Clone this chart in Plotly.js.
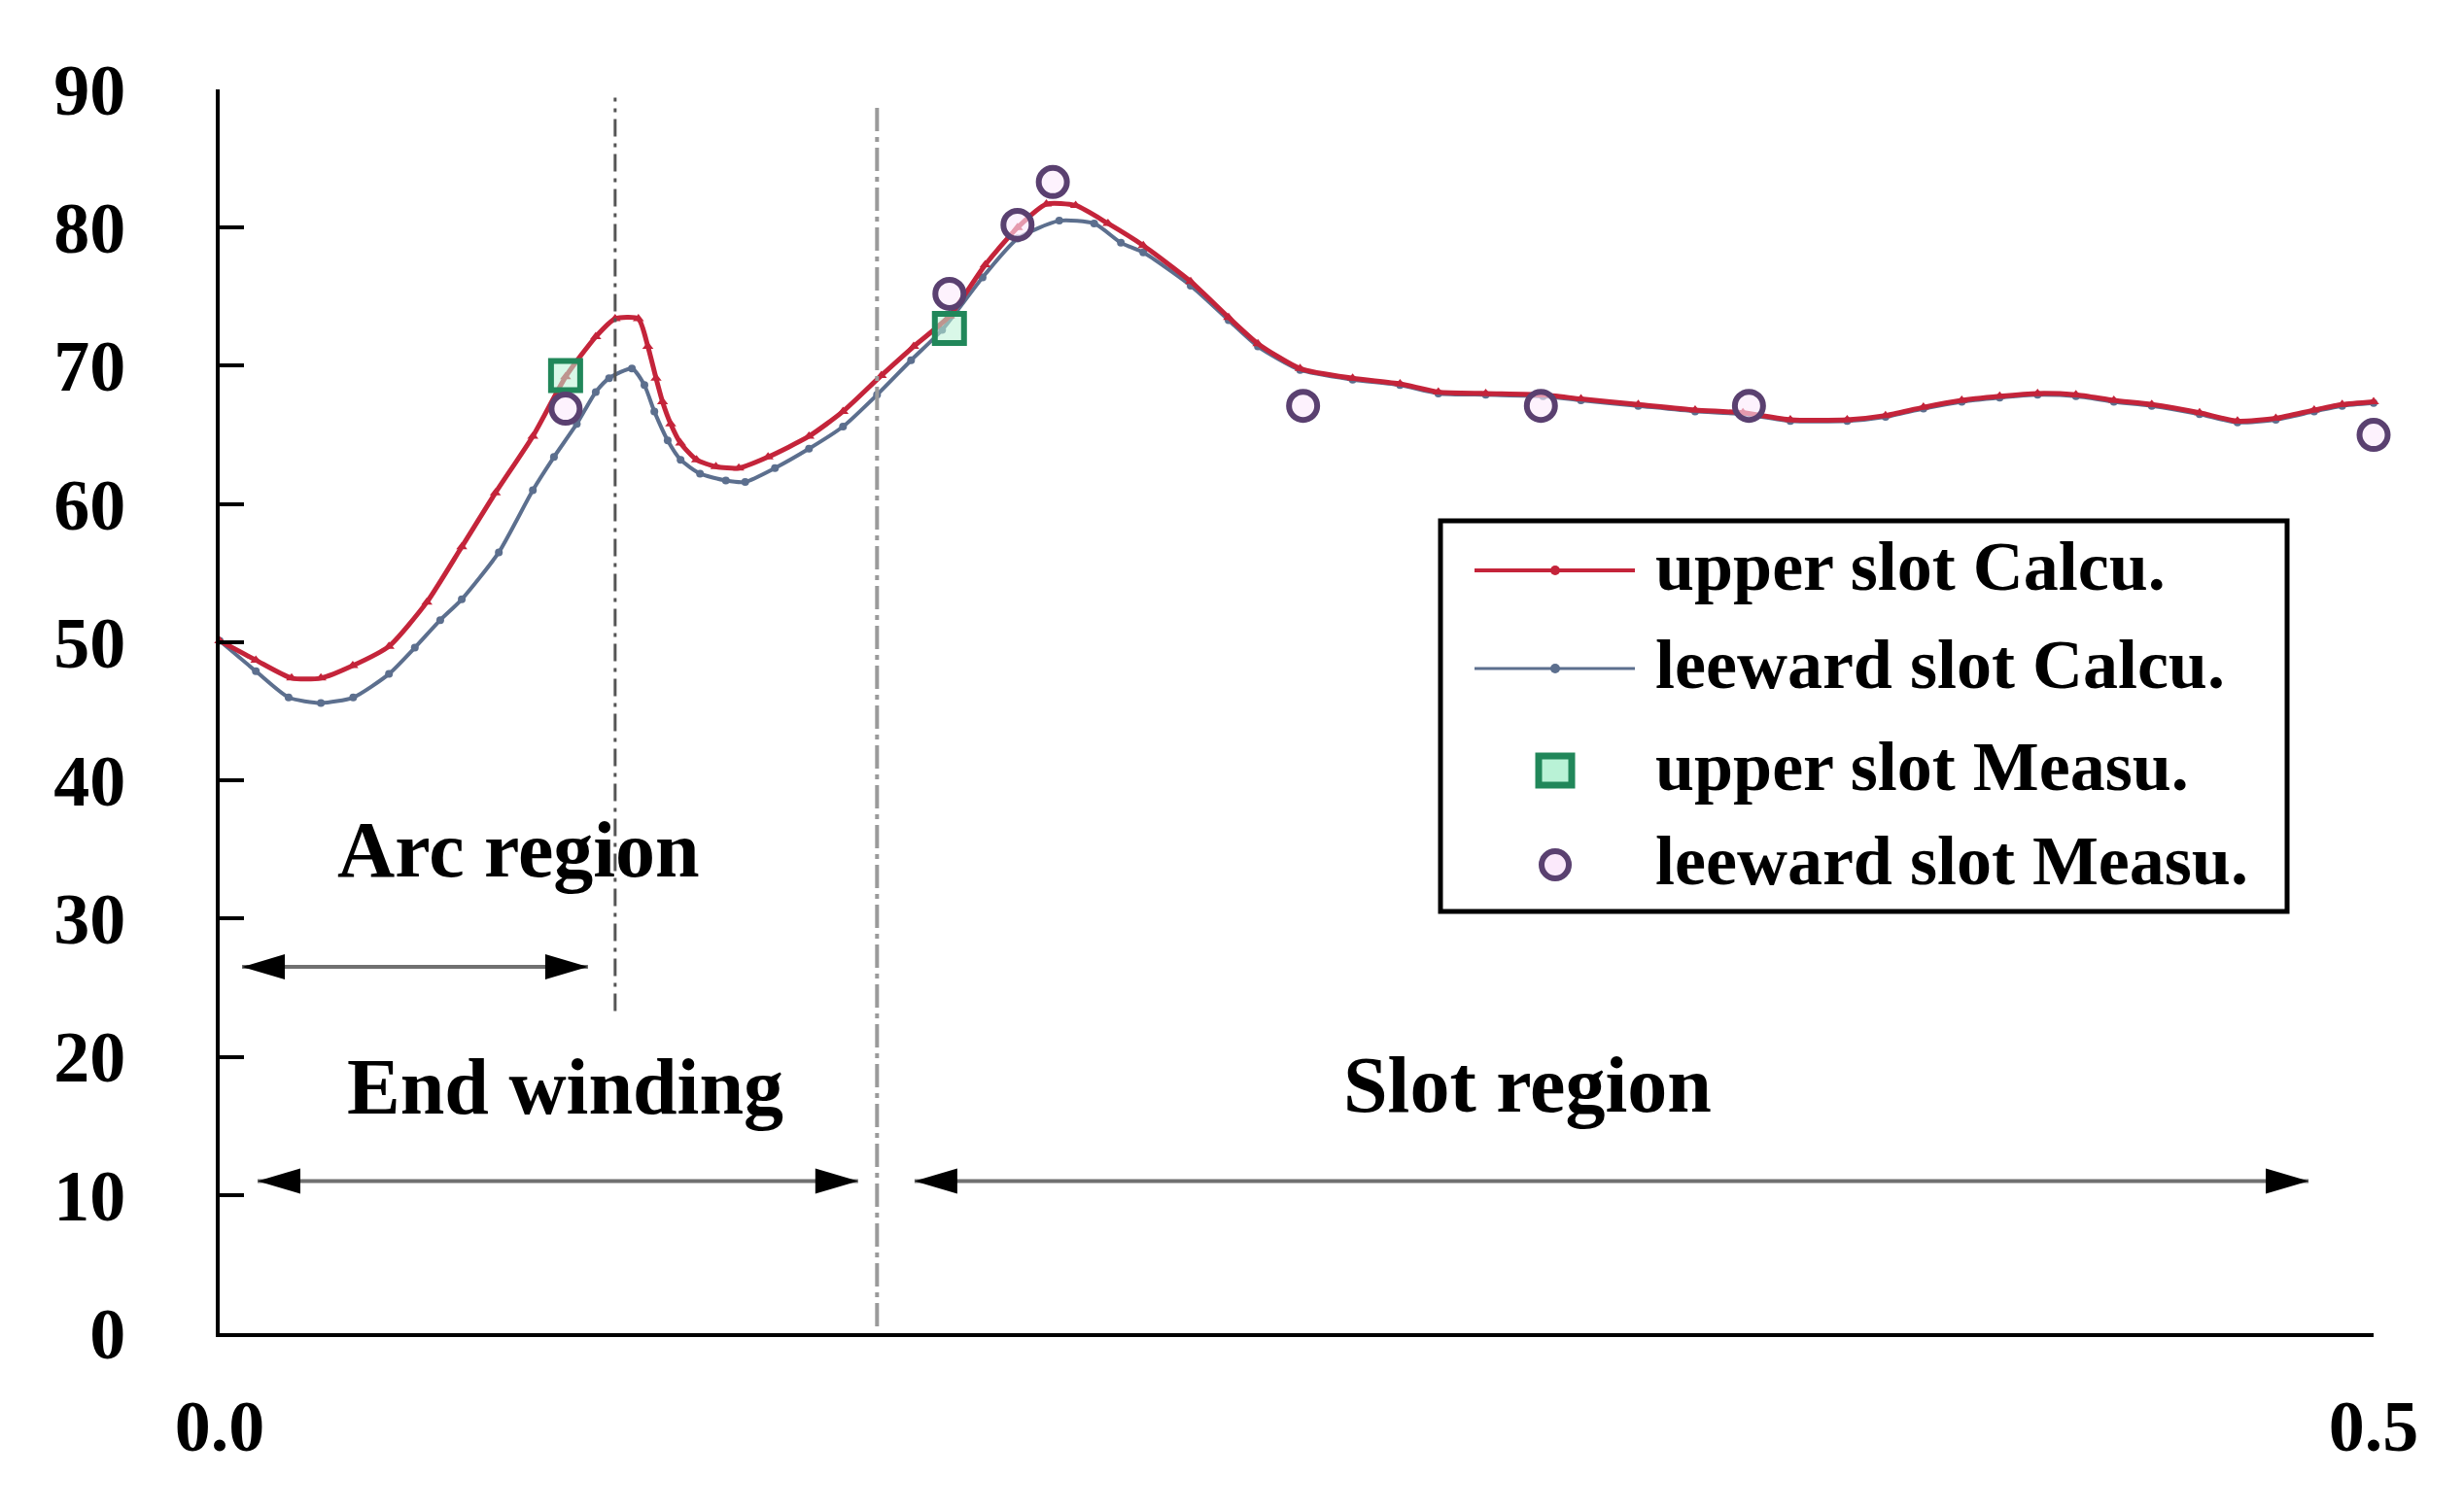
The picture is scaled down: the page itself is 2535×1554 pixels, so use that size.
<!DOCTYPE html>
<html>
<head>
<meta charset="utf-8">
<script src="https://cdn.plot.ly/plotly-3.0.1.min.js"></script>
<style>html,body{margin:0;padding:0;background:#fff;}#chart{width:2535px;height:1554px;}</style>
</head>
<body>
<div id="chart"></div>
<script>
// ---- data ----
const seriesNames = ['upper slot Calcu.', 'leeward slot Calcu.', 'upper slot Measu.', 'leeward slot Measu.'];

const xUpperCalc = [0.0000, 0.0084, 0.0167, 0.0235, 0.0309, 0.0393, 0.0481, 0.0562, 0.0640, 0.0727, 0.0803, 0.0873, 0.0918, 0.0972, 0.0994, 0.1013, 0.1028, 0.1047, 0.1070, 0.1107, 0.1152, 0.1205, 0.1273, 0.1368, 0.1447, 0.1536, 0.1611, 0.1694, 0.1777, 0.1852, 0.1919, 0.1987, 0.2062, 0.2144, 0.2254, 0.2342, 0.2410, 0.2508, 0.2630, 0.2740, 0.2829, 0.2939, 0.3072, 0.3160, 0.3293, 0.3425, 0.3536, 0.3646, 0.3778, 0.3867, 0.3955, 0.4044, 0.4132, 0.4220, 0.4309, 0.4397, 0.4485, 0.4596, 0.4684, 0.4773, 0.4862, 0.4927, 0.5000];
const yUpperCalc = [50.1, 48.7, 47.4, 47.4, 48.3, 49.7, 52.9, 56.9, 60.8, 64.9, 69.2, 72.1, 73.4, 73.4, 71.4, 69.1, 67.4, 65.8, 64.4, 63.2, 62.7, 62.6, 63.4, 64.9, 66.7, 69.3, 71.4, 73.6, 77.3, 80.0, 81.7, 81.6, 80.3, 78.7, 76.1, 73.5, 71.6, 69.8, 69.1, 68.7, 68.1, 68.0, 67.9, 67.6, 67.2, 66.8, 66.6, 66.1, 66.1, 66.4, 67.0, 67.5, 67.8, 68.0, 67.9, 67.5, 67.2, 66.6, 66.0, 66.2, 66.8, 67.2, 67.4];

const xLeewardCalc = [0.0000, 0.0084, 0.0160, 0.0235, 0.0310, 0.0393, 0.0453, 0.0512, 0.0562, 0.0648, 0.0727, 0.0776, 0.0829, 0.0873, 0.0904, 0.0957, 0.0986, 0.1009, 0.1040, 0.1070, 0.1115, 0.1175, 0.1220, 0.1289, 0.1368, 0.1447, 0.1526, 0.1605, 0.1677, 0.1771, 0.1852, 0.1949, 0.2030, 0.2092, 0.2144, 0.2254, 0.2342, 0.2410, 0.2508, 0.2630, 0.2740, 0.2829, 0.2939, 0.3072, 0.3160, 0.3293, 0.3425, 0.3536, 0.3646, 0.3778, 0.3867, 0.3955, 0.4044, 0.4132, 0.4220, 0.4309, 0.4397, 0.4485, 0.4596, 0.4684, 0.4773, 0.4862, 0.4927, 0.5000];
const yLeewardCalc = [50.1, 47.9, 46.0, 45.6, 46.0, 47.7, 49.6, 51.6, 53.1, 56.5, 61.0, 63.4, 65.8, 68.1, 69.1, 69.8, 68.6, 66.7, 64.6, 63.2, 62.2, 61.7, 61.6, 62.6, 64.0, 65.6, 67.9, 70.4, 72.6, 76.4, 79.2, 80.5, 80.3, 78.9, 78.2, 75.8, 73.3, 71.4, 69.7, 69.0, 68.6, 68.0, 67.9, 67.8, 67.5, 67.1, 66.7, 66.5, 66.0, 66.0, 66.3, 66.9, 67.4, 67.7, 67.9, 67.8, 67.4, 67.1, 66.5, 65.9, 66.1, 66.7, 67.1, 67.3];

const xUpperMeas = [0.0803, 0.1694];
const yUpperMeas = [69.3, 72.7];

const xLeewardMeas = [0.0803, 0.1694, 0.1852, 0.1934, 0.2515, 0.3067, 0.3550, 0.5000];
const yLeewardMeas = [66.9, 75.2, 80.2, 83.3, 67.1, 67.1, 67.1, 65.0];

const yTickVals = [0, 10, 20, 30, 40, 50, 60, 70, 80, 90];
const xTickVals = [0, 0.5];
const xTickText = ['0.0', '0.5'];

const regionBounds = [0.0918, 0.1526];          // arc-region end, end-winding end
const regionLabels = ['Arc region', 'End winding', 'Slot region'];
const regionLabelX = [0.0693, 0.0801, 0.3036];
const regionLabelY = [35.0, 17.8, 18.0];
const arrowSpans = [[0.0052, 0.0855], [0.0088, 0.1482], [0.1613, 0.4849]];
const arrowY = [26.5, 11.0, 11.0];

// ---- styles ----
const FONT = 'Liberation Serif, Times New Roman, serif';
const RED = '#c4243a';
const BLUE = '#5c6f8e';
const GREEN = '#21875a';
const PURPLE = '#5a4070';

const traces = [
  {x: xLeewardCalc, y: yLeewardCalc, name: seriesNames[1], type: 'scatter', mode: 'lines+markers',
   line: {color: BLUE, width: 4, shape: 'spline', smoothing: 0.6},
   marker: {symbol: 'circle', size: 8, color: BLUE}, cliponaxis: false},
  {x: xUpperCalc, y: yUpperCalc, name: seriesNames[0], type: 'scatter', mode: 'lines+markers',
   line: {color: RED, width: 5, shape: 'spline', smoothing: 0.6},
   marker: {symbol: 'triangle-up', size: 10, color: RED}, cliponaxis: false},
  {x: xUpperMeas, y: yUpperMeas, name: seriesNames[2], type: 'scatter', mode: 'markers',
   marker: {symbol: 'square', size: 30, color: 'rgba(185,242,214,0.55)', line: {color: GREEN, width: 6}}, cliponaxis: false},
  {x: xLeewardMeas, y: yLeewardMeas, name: seriesNames[3], type: 'scatter', mode: 'markers',
   marker: {symbol: 'circle', size: 29, color: 'rgba(251,233,251,0.6)', line: {color: PURPLE, width: 6}}, cliponaxis: false}
];

// plot area in pixels (for the hand-built legend in paper units)
const M = {l: 226, r: 93, t: 92, b: 182};
const W = 2535, H = 1554;
const PW = W - M.l - M.r, PH = H - M.t - M.b;
const px = v => (v - M.l) / PW;
const py = v => (H - M.b - v) / PH;

const shapes = [];
const annotations = [];

// region boundary lines
shapes.push({type: 'line', xref: 'x', yref: 'y', x0: regionBounds[0], x1: regionBounds[0], y0: 23.3, y1: 89.4,
  line: {color: '#555555', width: 3, dash: '18px,7px,4px,7px'}});
shapes.push({type: 'line', xref: 'x', yref: 'y', x0: regionBounds[1], x1: regionBounds[1], y0: 0.5, y1: 89.0,
  line: {color: '#9a9a9a', width: 4, dash: '24px,6px,5px,6px'}});

// double arrows
arrowSpans.forEach((s, i) => {
  shapes.push({type: 'line', xref: 'x', yref: 'y', x0: s[0], x1: s[1], y0: arrowY[i], y1: arrowY[i],
    line: {color: '#707070', width: 4}});
  shapes.push({type: 'path', xref: 'x', yref: 'y', xsizemode: 'pixel', ysizemode: 'pixel',
    xanchor: s[0], yanchor: arrowY[i], path: 'M0,0 L44,-13 L44,13 Z', fillcolor: '#000', line: {width: 0}});
  shapes.push({type: 'path', xref: 'x', yref: 'y', xsizemode: 'pixel', ysizemode: 'pixel',
    xanchor: s[1], yanchor: arrowY[i], path: 'M0,0 L-44,-13 L-44,13 Z', fillcolor: '#000', line: {width: 0}});
});

// region labels
regionLabels.forEach((t, i) => {
  annotations.push({text: t, x: regionLabelX[i], y: regionLabelY[i], xref: 'x', yref: 'y', showarrow: false,
    xanchor: 'center', yanchor: 'middle', font: {family: FONT, size: 82, color: '#000', weight: 'bold'}});
});

// legend box
shapes.push({type: 'rect', xref: 'paper', yref: 'paper', x0: px(1482), x1: px(2353), y0: py(938), y1: py(536),
  line: {color: '#000', width: 5}, fillcolor: 'rgba(255,255,255,0)'});
const rowY = [587, 688, 793, 890];
const symX = px(1600);
// line samples
[[RED, 4], [BLUE, 3]].forEach((c, i) => {
  shapes.push({type: 'line', xref: 'paper', yref: 'paper', x0: px(1517), x1: px(1682), y0: py(rowY[i]), y1: py(rowY[i]),
    line: {color: c[0], width: c[1]}});
  shapes.push({type: 'circle', xref: 'paper', yref: 'paper', xsizemode: 'pixel', ysizemode: 'pixel',
    xanchor: symX, yanchor: py(rowY[i]), x0: -5, x1: 5, y0: -5, y1: 5, fillcolor: c[0], line: {width: 0}});
});
shapes.push({type: 'rect', xref: 'paper', yref: 'paper', xsizemode: 'pixel', ysizemode: 'pixel',
  xanchor: symX, yanchor: py(rowY[2]), x0: -17, x1: 17, y0: -15, y1: 15, fillcolor: '#b9f2d6', line: {color: GREEN, width: 7}});
shapes.push({type: 'circle', xref: 'paper', yref: 'paper', xsizemode: 'pixel', ysizemode: 'pixel',
  xanchor: symX, yanchor: py(rowY[3]), x0: -14, x1: 14, y0: -14, y1: 14, fillcolor: '#fbe9fb', line: {color: PURPLE, width: 6}});
seriesNames.forEach((n, i) => {
  annotations.push({text: n, x: px(1701), y: py(rowY[i]) + 0.003, xref: 'paper', yref: 'paper', showarrow: false,
    xanchor: 'left', yanchor: 'middle', font: {family: FONT, size: 72, color: '#000', weight: 'bold'}});
});

const layout = {
  width: W, height: H,
  margin: M,
  paper_bgcolor: '#fff', plot_bgcolor: '#fff',
  showlegend: false,
  xaxis: {range: [0, 0.5], tickvals: xTickVals, ticktext: xTickText, ticks: 'inside', ticklen: 25, tickwidth: 4,
    tickcolor: '#000', showline: true, linecolor: '#000', linewidth: 4, showgrid: false, zeroline: false,
    ticklabelstandoff: 28, tickfont: {family: FONT, size: 74, color: '#000', weight: 'bold'}},
  yaxis: {range: [0, 90], tickvals: yTickVals, ticks: 'inside', ticklen: 25, tickwidth: 4,
    tickcolor: '#000', showline: true, linecolor: '#000', linewidth: 4, showgrid: false, zeroline: false,
    ticklabelstandoff: 78, tickfont: {family: FONT, size: 74, color: '#000', weight: 'bold'}},
  shapes: shapes,
  annotations: annotations
};

Plotly.newPlot('chart', traces, layout, {staticPlot: true, displayModeBar: false});
</script>
</body>
</html>
